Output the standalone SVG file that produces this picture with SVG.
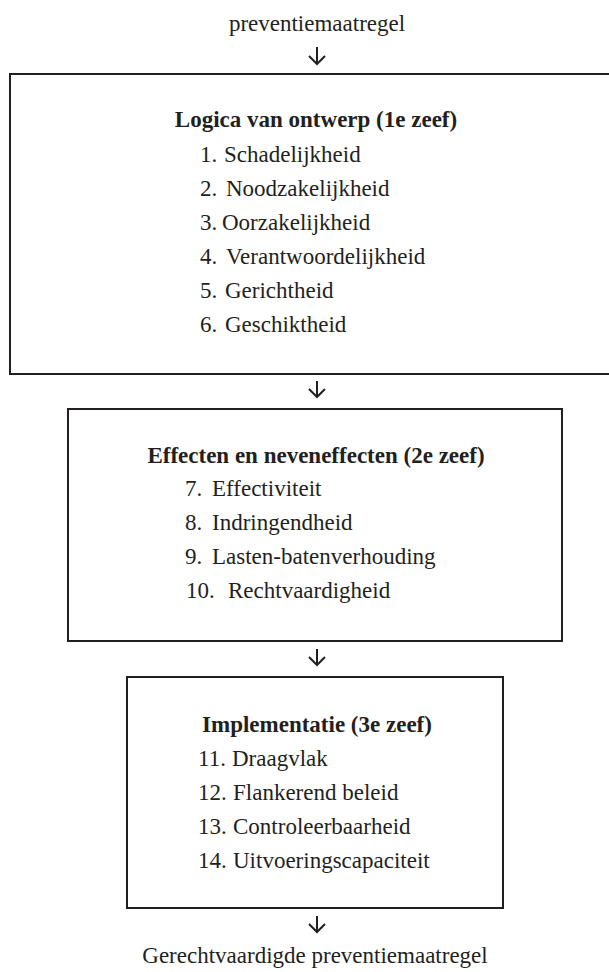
<svg xmlns="http://www.w3.org/2000/svg" width="609" height="972" viewBox="0 0 609 972">
<style>
  .t { font-family: "Liberation Serif", "Times New Roman", serif; font-size: 23px; fill: #231f20; }
  .b { font-weight: bold; }
  .m { text-anchor: middle; }
  .box { fill: none; stroke: #231f20; stroke-width: 2; }
  .arr { fill: none; stroke: #231f20; stroke-width: 2; }
</style>
<rect width="609" height="972" fill="#ffffff"/>
<g id="start">
  <text class="t m" x="317" y="31">preventiemaatregel</text>
</g>
<g id="zeef1">
  <rect class="box" x="10" y="74" width="620" height="300"/>
  <text class="t b m" x="316" y="127">Logica van ontwerp (1e zeef)</text>
  <text class="t" x="200" y="161.5">1.</text><text class="t" x="224" y="161.5">Schadelijkheid</text>
  <text class="t" x="200" y="195.5">2.</text><text class="t" x="226" y="195.5">Noodzakelijkheid</text>
  <text class="t" x="200" y="229.5">3.</text><text class="t" x="222" y="229.5">Oorzakelijkheid</text>
  <text class="t" x="200" y="263.5">4.</text><text class="t" x="226" y="263.5">Verantwoordelijkheid</text>
  <text class="t" x="200" y="297.5">5.</text><text class="t" x="225" y="297.5">Gerichtheid</text>
  <text class="t" x="200" y="331.5">6.</text><text class="t" x="225" y="331.5">Geschiktheid</text>
</g>
<g id="zeef2">
  <rect class="box" x="68" y="409" width="494" height="232"/>
  <text class="t b m" x="316" y="463">Effecten en neveneffecten (2e zeef)</text>
  <text class="t" x="185" y="496">7.</text><text class="t" x="212" y="496">Effectiviteit</text>
  <text class="t" x="185" y="530">8.</text><text class="t" x="212" y="530">Indringendheid</text>
  <text class="t" x="185" y="564">9.</text><text class="t" x="212" y="564">Lasten-batenverhouding</text>
  <text class="t" x="186" y="598">10.</text><text class="t" x="228" y="598">Rechtvaardigheid</text>
</g>
<g id="zeef3">
  <rect class="box" x="127" y="677" width="376" height="231"/>
  <text class="t b m" x="317" y="732">Implementatie (3e zeef)</text>
  <text class="t" x="198" y="766">11.</text><text class="t" x="232" y="766">Draagvlak</text>
  <text class="t" x="198" y="800">12.</text><text class="t" x="233" y="800">Flankerend beleid</text>
  <text class="t" x="198" y="834">13.</text><text class="t" x="233" y="834">Controleerbaarheid</text>
  <text class="t" x="198" y="868">14.</text><text class="t" x="233" y="868">Uitvoeringscapaciteit</text>
</g>
<g id="end">
  <text class="t m" x="315" y="963">Gerechtvaardigde preventiemaatregel</text>
</g>
<g id="connectors">
  <path class="arr" d="M317 47 V64 M309 56 L317 64 L325 56"/>
  <path class="arr" d="M317 381 V397 M309 389 L317 397 L325 389"/>
  <path class="arr" d="M317 649 V665 M309 657 L317 665 L325 657"/>
  <path class="arr" d="M317 916 V932 M309 924 L317 932 L325 924"/>
</g>
</svg>
